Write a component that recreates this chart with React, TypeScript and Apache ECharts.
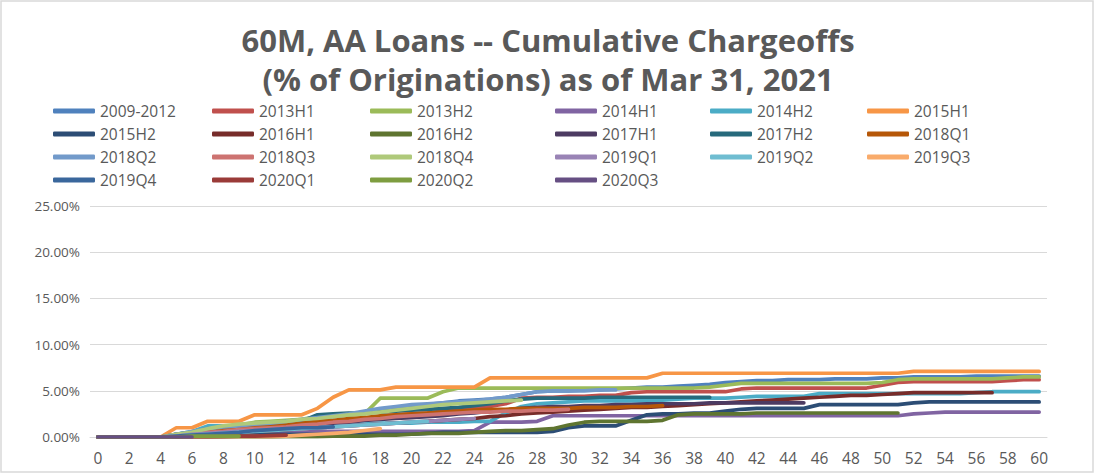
import React, { useEffect, useRef } from "react";
import * as echarts from "echarts";

const months = ["0","1","2","3","4","5","6","7","8","9","10","11","12","13","14","15","16","17","18","19","20","21","22","23","24","25","26","27","28","29","30","31","32","33","34","35","36","37","38","39","40","41","42","43","44","45","46","47","48","49","50","51","52","53","54","55","56","57","58","59","60"];

const seriesNames = ["2009-2012","2013H1","2013H2","2014H1","2014H2","2015H1","2015H2","2016H1","2016H2","2017H1","2017H2","2018Q1","2018Q2","2018Q3","2018Q4","2019Q1","2019Q2","2019Q3","2019Q4","2020Q1","2020Q2","2020Q3"];

const colors = ["#4F81BD","#C0504D","#9BBB59","#8064A2","#4BACC6","#F79646","#2C4D75","#772C2A","#5F7530","#4D3B62","#276A7C","#B65708","#729ACA","#CD7371","#AFC97A","#9983B5","#6FBDD1","#F9AB6B","#3A679C","#9A3B38","#7E9D40","#664F83"];

const v2009_2012 = [0,0,0,0,0,0.3,0.5,0.8,1.0,1.1, 1.3,1.4,1.5,1.7,2.0,2.2,2.4,2.6,3.0,3.2, 3.3,3.5,3.7,3.9,4.0,4.1,4.3,4.6,4.9,5.0, 5.0,5.1,5.1,5.2,5.3,5.4,5.4,5.5,5.6,5.7, 5.9,6.0,6.1,6.1,6.2,6.2,6.2,6.3,6.3,6.3, 6.4,6.4,6.5,6.5,6.5,6.5,6.6,6.6,6.6,6.6, 6.6];
const v2013H1 = [0,0,0,0,0,0,0.3,0.5,0.7,0.9, 1.0,1.1,1.2,1.3,1.5,1.7,1.9,2.0,2.2,2.4, 2.5,2.6,2.8,3.0,3.1,3.3,3.6,4.2,4.3,4.3, 4.4,4.4,4.5,4.5,4.8,4.9,4.9,4.9,4.9,4.9, 4.9,5.2,5.3,5.3,5.3,5.3,5.3,5.3,5.3,5.3, 5.6,5.9,6.0,6.0,6.0,6.0,6.0,6.0,6.1,6.2, 6.2];
const v2013H2 = [0,0,0,0,0,0.3,0.5,0.8,1.0,1.3, 1.6,1.7,1.8,1.9,2.2,2.3,2.4,2.5,4.2,4.2, 4.2,4.2,4.9,5.3,5.3,5.3,5.3,5.3,5.3,5.3, 5.3,5.3,5.3,5.3,5.3,5.3,5.3,5.3,5.3,5.4, 5.6,5.8,5.8,5.8,5.8,5.8,5.8,5.8,5.8,5.8, 5.9,6.2,6.3,6.3,6.3,6.3,6.3,6.3,6.4,6.5, 6.5];
const v2014H1 = [0,0,0,0,0,0,0.2,0.3,0.4,0.4, 0.5,0.5,0.5,0.5,0.6,0.6,0.6,0.6,0.6,0.6, 0.6,0.6,0.6,0.6,0.7,1.6,1.6,1.6,1.7,2.3, 2.3,2.3,2.3,2.3,2.3,2.3,2.3,2.3,2.3,2.3, 2.3,2.3,2.3,2.3,2.3,2.3,2.3,2.3,2.3,2.3, 2.3,2.3,2.5,2.6,2.7,2.7,2.7,2.7,2.7,2.7, 2.7];
const v2014H2 = [0,0,0,0,0,0.3,0.6,1.2,1.2,1.2, 1.2,1.3,1.3,1.3,1.4,1.4,1.4,1.4,1.5,1.5, 1.5,1.6,1.6,1.6,1.7,1.7,2.6,3.3,3.6,3.7, 3.8,3.9,3.9,3.9,3.9,3.9,4.0,4.1,4.2,4.2, 4.2,4.3,4.4,4.4,4.4,4.4,4.7,4.7,4.7,4.7, 4.7,4.7,4.7,4.7,4.7,4.7,4.8,4.9,4.9,4.9, 4.9];
const v2015H1 = [0,0,0,0,0,1.0,1.0,1.7,1.7,1.7, 2.4,2.4,2.4,2.4,3.1,4.3,5.1,5.1,5.1,5.4, 5.4,5.4,5.4,5.4,5.4,6.4,6.4,6.4,6.4,6.4, 6.4,6.4,6.4,6.4,6.4,6.4,6.9,6.9,6.9,6.9, 6.9,6.9,6.9,6.9,6.9,6.9,6.9,6.9,6.9,6.9, 6.9,6.9,7.1,7.1,7.1,7.1,7.1,7.1,7.1,7.1, 7.1];
const v2015H2 = [0,0,0,0,0,0,0.1,0.2,0.2,0.3, 0.3,0.3,0.3,0.3,0.3,0.3,0.3,0.3,0.3,0.3, 0.3,0.4,0.5,0.5,0.5,0.5,0.5,0.5,0.5,0.6, 1.0,1.2,1.2,1.2,1.8,2.4,2.5,2.5,2.6,2.6, 2.8,3.0,3.1,3.1,3.1,3.1,3.5,3.5,3.5,3.5, 3.5,3.5,3.7,3.8,3.8,3.8,3.8,3.8,3.8,3.8, 3.8];
const v2016H1 = [0,0,0,0,0,0,0.2,0.3,0.4,0.5, 0.6,0.7,0.8,0.9,1.0,1.1,1.2,1.3,1.4,1.5, 1.6,1.7,1.8,1.9,2.0,2.2,2.3,2.5,2.6,2.7, 2.8,2.9,3.0,3.1,3.2,3.2,3.3,3.4,3.5,3.6, 3.7,3.8,3.9,4.0,4.1,4.2,4.3,4.4,4.5,4.5, 4.6,4.7,4.8,4.8,4.8,4.8,4.8,4.8];
const v2016H2 = [0,0,0,0,0,0,0,0,0,0, 0,0,0.05,0.05,0.05,0.1,0.1,0.1,0.2,0.2, 0.3,0.4,0.4,0.4,0.5,0.6,0.7,0.7,0.8,0.9, 1.3,1.6,1.7,1.7,1.7,1.7,1.8,2.4,2.5,2.5, 2.5,2.5,2.6,2.6,2.6,2.6,2.6,2.6,2.6,2.6, 2.6,2.6];
const v2017H1 = [0,0,0,0,0,0,0.3,0.4,0.5,0.7, 0.8,0.9,1.0,1.2,1.3,1.5,1.6,1.8,1.9,2.0, 2.1,2.2,2.3,2.5,2.6,2.8,2.9,3.1,3.2,3.3, 3.3,3.4,3.4,3.5,3.5,3.6,3.6,3.6,3.6,3.7, 3.7,3.7,3.7,3.7,3.7,3.7];
const v2017H2 = [0,0,0,0,0,0.3,0.5,0.9,1.0,1.1, 1.3,1.4,1.5,1.7,2.4,2.5,2.6,2.6,2.7,2.8, 2.9,3.0,3.1,3.2,3.4,3.6,3.9,4.1,4.2,4.2, 4.2,4.2,4.3,4.3,4.3,4.3,4.3,4.3,4.3,4.3];
const v2018Q1 = [0,0,0,0,0,0.2,0.4,0.6,0.8,0.9, 1.1,1.2,1.4,1.5,1.7,1.8,2.0,2.1,2.3,2.4, 2.5,2.6,2.7,2.8,2.9,3.0,3.0,3.1,3.1,3.1, 3.1,3.2,3.2,3.2,3.3,3.3,3.4];
const v2018Q2 = [0,0,0,0,0,0.3,0.6,0.9,1.1,1.2, 1.4,1.5,1.7,1.9,2.1,2.3,2.5,2.8,3.1,3.3, 3.5,3.6,3.7,3.8,3.9,4.1,4.3,4.6,4.9,5.0, 5.0,5.0,5.1,5.1];
const v2018Q3 = [0,0,0,0,0,0.2,0.4,0.5,0.6,0.8, 0.9,1.0,1.1,1.3,1.4,1.6,1.7,1.9,2.0,2.2, 2.3,2.4,2.5,2.6,2.7,2.7,2.8,2.8,2.9,2.9, 3.0];
const v2018Q4 = [0,0,0,0,0,0.3,0.5,0.9,1.2,1.4, 1.5,1.6,1.7,1.9,2.0,2.2,2.4,2.5,2.7,2.9, 3.1,3.3,3.5,3.6,3.7,3.8,3.9,4.0];
const v2019Q1 = [0,0,0,0,0,0.1,0.3,0.4,0.5,0.6, 0.7,0.8,0.9,0.9,1.0,1.1,1.2,1.3,1.4,1.5, 1.6,1.7,1.8,1.9,2.0];
const v2019Q2 = [0,0,0,0,0,0.1,0.2,0.3,0.4,0.5, 0.6,0.7,0.8,0.9,1.0,1.1,1.2,1.3,1.4,1.5, 1.6,1.7];
const v2019Q3 = [0,0,0,0,0,0.05,0.05,0.05,0.05,0.05, 0.05,0.05,0.1,0.2,0.3,0.4,0.5,0.7,0.9];
const v2019Q4 = [0,0,0,0,0,0.1,0.2,0.3,0.4,0.5, 0.7,0.8,0.9,1.0,1.0,1.1];
const v2020Q1 = [0,0,0,0,0,0,0,0,0.05,0.1, 0.1,0.15,0.2];
const v2020Q2 = [0,0,0,0,0,0,0.1,0.1,0.1,0.1];
const v2020Q3 = [0,0,0,0,0,0,0];

const seriesValues = [v2009_2012,v2013H1,v2013H2,v2014H1,v2014H2,v2015H1,v2015H2,v2016H1,v2016H2,v2017H1,v2017H2,v2018Q1,v2018Q2,v2018Q3,v2018Q4,v2019Q1,v2019Q2,v2019Q3,v2019Q4,v2020Q1,v2020Q2,v2020Q3];

const yTicks = { min: 0, max: 25, interval: 5 };

const FONT = "'Open Sans', 'DejaVu Sans', sans-serif";
const TEXT = "#595959";
const GRID = "#d9d9d9";
const legendLefts = [48, 207, 365, 550, 705, 862];

export default function App() {
  const ref = useRef<HTMLDivElement>(null);
  useEffect(() => {
    if (!ref.current) return;
    const chart = echarts.init(ref.current, null, { renderer: "svg" });
    const legends = legendLefts.map((left, c) => ({
      orient: "vertical",
      left,
      top: 98,
      itemWidth: 42,
      itemHeight: 5,
      itemGap: 7,
      icon: "roundRect",
      data: seriesNames.filter((_, i) => i % 6 === c),
      textStyle: { fontFamily: FONT, fontSize: 15.5, color: TEXT, lineHeight: 16 },
    }));
    chart.setOption({
      animation: false,
      backgroundColor: "#ffffff",
      color: colors,
      title: {
        text: "60M, AA Loans -- Cumulative Chargeoffs\n(% of Originations) as of Mar 31, 2021",
        left: "center",
        top: 15,
        textStyle: { fontFamily: FONT, fontSize: 31, fontWeight: "bold", color: TEXT, lineHeight: 39 },
      },
      legend: legends,
      grid: { left: 90, right: 49, top: 206, bottom: 38 },
      xAxis: {
        type: "category",
        data: months,
        boundaryGap: true,
        axisTick: { show: false },
        axisLine: { lineStyle: { color: GRID, width: 1 } },
        axisLabel: { interval: 1, margin: 13, fontFamily: FONT, fontSize: 15.5, color: TEXT },
      },
      yAxis: {
        type: "value",
        min: yTicks.min,
        max: yTicks.max,
        interval: yTicks.interval,
        axisLine: { show: false },
        axisTick: { show: false },
        splitLine: { lineStyle: { color: GRID, width: 1 } },
        axisLabel: {
          margin: 10,
          fontFamily: FONT,
          fontSize: 13.5,
          color: TEXT,
          formatter: (v: number) => v.toFixed(2) + "%",
        },
      },
      graphic: [
        {
          type: "rect",
          shape: { x: 1, y: 1, width: 1092, height: 471 },
          style: { fill: "none", stroke: GRID, lineWidth: 1.5 },
          silent: true,
        },
      ],
      series: seriesNames.map((name, i) => ({
        name,
        type: "line",
        data: seriesValues[i],
        symbol: "none",
        showSymbol: false,
        lineStyle: { width: 3.7, color: colors[i], cap: "round", join: "round" },
        itemStyle: { color: colors[i] },
      })),
    });
    return () => chart.dispose();
  }, []);
  return (
    <div
      ref={ref}
      style={{ position: "absolute", left: 0, top: 0, width: 1096, height: 475, background: "#fff" }}
    />
  );
}
